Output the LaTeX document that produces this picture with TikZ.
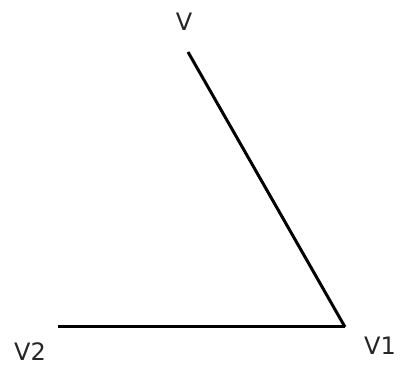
\documentclass[tikz,border=0pt]{standalone}
\usepackage{fontspec}
\setmainfont{DejaVu Sans}
\usetikzlibrary{positioning}

\begin{document}
\begin{tikzpicture}[x=1pt, y=-1pt, lbl/.style={inner sep=0pt, text=black!85, font=\fontsize{24}{28}\selectfont}, edge/.style={line width=3pt}]
\useasboundingbox (0,0) rectangle (402,371);
\coordinate (top) at (188,52);
\coordinate (corner) at (345,327);
\coordinate (left) at (58,327);
\node[lbl] (v) at (184,22) {V};
\node[lbl] (v1) at (380,346) {V1};
\node[lbl] (v2) at (30,352) {V2};
\draw[edge] (top) -- (corner); \draw[edge] (left) -- (corner);
\end{tikzpicture}
\end{document}
